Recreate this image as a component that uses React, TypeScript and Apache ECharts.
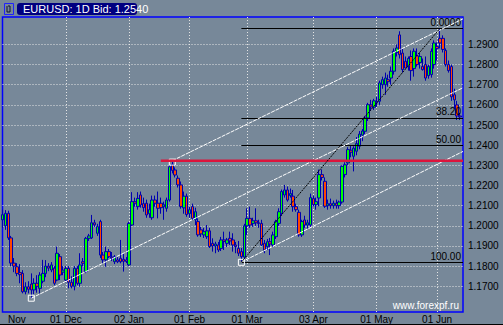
import React, { useEffect, useRef } from 'react';
import * as echarts from 'echarts';

// Daily bars [open, high, low, close]
const novBars = [
  [1.2030, 1.2080, 1.1990, 1.2055], [1.2000, 1.2078, 1.1980, 1.2062], [1.2062, 1.2075, 1.1930, 1.1940],
  [1.1940, 1.1950, 1.1800, 1.1815], [1.1815, 1.1840, 1.1770, 1.1800], [1.1797, 1.1815, 1.1750, 1.1764],
  [1.1768, 1.1810, 1.1715, 1.1758], [1.1764, 1.1780, 1.1665, 1.1673], [1.1673, 1.1720, 1.1660, 1.1698],
  [1.1698, 1.1725, 1.1665, 1.1685], [1.1711, 1.1764, 1.1640, 1.1682], [1.1682, 1.1740, 1.1660, 1.1715],
  [1.1715, 1.1755, 1.1668, 1.1700], [1.1690, 1.1770, 1.1665, 1.1756], [1.1725, 1.1831, 1.1715, 1.1764],
  [1.1764, 1.1830, 1.1745, 1.1800], [1.1800, 1.1815, 1.1775, 1.1790], [1.1781, 1.1820, 1.1770, 1.1806],
  [1.1790, 1.1800, 1.1705, 1.1715], [1.1731, 1.1897, 1.1725, 1.1864], [1.1847, 1.1860, 1.1731, 1.1756],
  [1.1770, 1.1800, 1.1755, 1.1780],
];
const decBars = [
  [1.1731, 1.1800, 1.1720, 1.1789], [1.1789, 1.1800, 1.1690, 1.1720], [1.1720, 1.1750, 1.1690, 1.1700],
  [1.1700, 1.1800, 1.1680, 1.1789], [1.1789, 1.1800, 1.1705, 1.1715], [1.1715, 1.1864, 1.1698, 1.1806],
  [1.1822, 1.1840, 1.1800, 1.1814], [1.1773, 1.1945, 1.1765, 1.1938], [1.1938, 1.1960, 1.1925, 1.1950],
  [1.1940, 1.2054, 1.1935, 1.2015], [1.2015, 1.2030, 1.1995, 1.2005], [1.1963, 1.2010, 1.1950, 1.1996],
  [1.2021, 1.2030, 1.1840, 1.1855], [1.1855, 1.1870, 1.1815, 1.1831], [1.1831, 1.1897, 1.1797, 1.1872],
  [1.1872, 1.1885, 1.1840, 1.1847], [1.1845, 1.1870, 1.1825, 1.1840], [1.1822, 1.1855, 1.1810, 1.1847],
  [1.1831, 1.1845, 1.1815, 1.1822], [1.1839, 1.1930, 1.1814, 1.1822], [1.1834, 1.1864, 1.1773, 1.1824],
  [1.1831, 1.1845, 1.1815, 1.1823],
];
const janBars = [
  [1.1806, 1.2020, 1.1800, 1.2012], [1.2004, 1.2167, 1.2000, 1.2120], [1.2120, 1.2140, 1.2095, 1.2112],
  [1.2095, 1.2167, 1.2080, 1.2136], [1.2153, 1.2170, 1.2090, 1.2103], [1.2110, 1.2140, 1.2070, 1.2090],
  [1.2112, 1.2130, 1.2040, 1.2054], [1.2060, 1.2110, 1.2040, 1.2080], [1.2040, 1.2150, 1.2030, 1.2128],
  [1.2128, 1.2150, 1.2095, 1.2112], [1.2112, 1.2170, 1.2037, 1.2087], [1.2112, 1.2140, 1.2060, 1.2090],
  [1.2095, 1.2120, 1.2030, 1.2105], [1.2087, 1.2140, 1.2070, 1.2128], [1.2128, 1.2300, 1.2120, 1.2293],
  [1.2305, 1.2323, 1.2260, 1.2275], [1.2277, 1.2290, 1.2240, 1.2252], [1.2236, 1.2250, 1.2190, 1.2203],
  [1.2203, 1.2220, 1.2085, 1.2095], [1.2089, 1.2170, 1.2060, 1.2147], [1.2147, 1.2160, 1.2045, 1.2056],
];
const febBars = [
  [1.2060, 1.2095, 1.2040, 1.2080], [1.2095, 1.2110, 1.2030, 1.2037], [1.2030, 1.2090, 1.2004, 1.2070],
  [1.2021, 1.2037, 1.1946, 1.1955], [1.1980, 1.1995, 1.1945, 1.1960], [1.1955, 1.1990, 1.1940, 1.1971],
  [1.1946, 1.2004, 1.1935, 1.1975], [1.1975, 1.1990, 1.1890, 1.1897], [1.1913, 1.1938, 1.1872, 1.1900],
  [1.1900, 1.1921, 1.1864, 1.1910], [1.1905, 1.1920, 1.1870, 1.1880], [1.1888, 1.1945, 1.1875, 1.1930],
  [1.1930, 1.1971, 1.1880, 1.1922], [1.1913, 1.1940, 1.1895, 1.1930], [1.1938, 1.1971, 1.1905, 1.1925],
  [1.1930, 1.1963, 1.1872, 1.1905], [1.1905, 1.1920, 1.1864, 1.1897], [1.1888, 1.1925, 1.1850, 1.1864],
  [1.1872, 1.1890, 1.1820, 1.1847], [1.1845, 1.2010, 1.1835, 1.2000],
];
const marBars = [
  [1.2000, 1.2087, 1.1955, 1.2037], [1.2037, 1.2095, 1.1990, 1.2004], [1.2012, 1.2040, 1.1995, 1.2025],
  [1.2025, 1.2087, 1.2000, 1.2015], [1.2015, 1.2030, 1.1990, 1.2012], [1.2012, 1.2030, 1.1900, 1.1905],
  [1.1913, 1.1930, 1.1864, 1.1880], [1.1897, 1.1935, 1.1880, 1.1921], [1.1921, 1.1940, 1.1855, 1.1910],
  [1.1905, 1.1971, 1.1895, 1.1955], [1.1946, 1.2030, 1.1935, 1.2021], [1.2012, 1.2087, 1.2000, 1.2070],
  [1.2062, 1.2180, 1.2050, 1.2170], [1.2153, 1.2203, 1.2140, 1.2178], [1.2178, 1.2195, 1.2120, 1.2128],
  [1.2150, 1.2185, 1.2140, 1.2160], [1.2147, 1.2178, 1.2070, 1.2095], [1.2095, 1.2110, 1.2070, 1.2080],
  [1.2067, 1.2080, 1.1946, 1.1955], [1.1955, 1.2030, 1.1945, 1.2021], [1.2029, 1.2050, 1.1990, 1.2004],
  [1.2004, 1.2030, 1.1985, 1.2015], [1.2004, 1.2160, 1.1995, 1.2140],
];
const aprBars = [
  [1.2135, 1.2150, 1.2095, 1.2105], [1.2105, 1.2140, 1.2080, 1.2120], [1.2138, 1.2279, 1.2097, 1.2254],
  [1.2254, 1.2280, 1.2225, 1.2240], [1.2221, 1.2240, 1.2089, 1.2097], [1.2100, 1.2130, 1.2080, 1.2110],
  [1.2110, 1.2135, 1.2085, 1.2100], [1.2100, 1.2125, 1.2085, 1.2112], [1.2112, 1.2130, 1.2085, 1.2100],
  [1.2100, 1.2125, 1.2085, 1.2118], [1.2118, 1.2300, 1.2110, 1.2295], [1.2254, 1.2315, 1.2240, 1.2303],
  [1.2312, 1.2390, 1.2300, 1.2378], [1.2375, 1.2400, 1.2340, 1.2365], [1.2345, 1.2395, 1.2270, 1.2385],
  [1.2370, 1.2440, 1.2350, 1.2408], [1.2395, 1.2470, 1.2380, 1.2455], [1.2450, 1.2480, 1.2420, 1.2470],
  [1.2469, 1.2545, 1.2455, 1.2535], [1.2535, 1.2610, 1.2520, 1.2601], [1.2600, 1.2625, 1.2570, 1.2590],
  [1.2588, 1.2630, 1.2575, 1.2620],
];
const mayBars = [
  [1.2615, 1.2640, 1.2590, 1.2610], [1.2618, 1.2720, 1.2600, 1.2709], [1.2700, 1.2740, 1.2680, 1.2725],
  [1.2700, 1.2760, 1.2650, 1.2733], [1.2725, 1.2750, 1.2690, 1.2715], [1.2733, 1.2790, 1.2700, 1.2767],
  [1.2767, 1.2880, 1.2750, 1.2866], [1.2860, 1.2900, 1.2840, 1.2882], [1.2947, 1.2965, 1.2830, 1.2849],
  [1.2857, 1.2880, 1.2760, 1.2775], [1.2816, 1.2840, 1.2780, 1.2783], [1.2790, 1.2840, 1.2770, 1.2830],
  [1.2840, 1.2870, 1.2720, 1.2770], [1.2780, 1.2880, 1.2740, 1.2866], [1.2843, 1.2880, 1.2790, 1.2800],
  [1.2810, 1.2860, 1.2780, 1.2840], [1.2790, 1.2830, 1.2770, 1.2775], [1.2800, 1.2840, 1.2720, 1.2733],
  [1.2745, 1.2800, 1.2730, 1.2790], [1.2750, 1.2880, 1.2735, 1.2866], [1.2800, 1.2920, 1.2780, 1.2907],
];
const junBars = [
  [1.2890, 1.2910, 1.2820, 1.2880], [1.2930, 1.2979, 1.2880, 1.2907], [1.2930, 1.2945, 1.2860, 1.2875],
  [1.2870, 1.2880, 1.2790, 1.2800], [1.2800, 1.2820, 1.2760, 1.2770], [1.2790, 1.2800, 1.2620, 1.2640],
  [1.2650, 1.2680, 1.2580, 1.2625], [1.2600, 1.2620, 1.2525, 1.2545], [1.2545, 1.2560, 1.2525, 1.2540],
];

// month separators (bar index of the first bar of each month) and their labels
const monthStart = [0, 22, 44, 65, 85, 108, 130, 151];
const labelIndex = [5, 22, 44, 65, 85, 108, 130, 151];
const monthLabels = ['Nov', '01 Dec', '02 Jan', '01 Feb', '01 Mar', '03 Apr', '01 May', '01 Jun'];
const priceLevels = [1.17, 1.18, 1.19, 1.2, 1.21, 1.22, 1.23, 1.24, 1.25, 1.26, 1.27, 1.28, 1.29];
const lastPrice = 1.254;

const fibNames = ['0.0000', '38.20', '50.00', '100.00'];
const fibPrices = [1.2979, 1.2536, 1.2400, 1.1820];
const fibStart = 83;
const fibTrend = [[83, 1.1820], [152, 1.2979]];
const channelLow = [[10, 1.1641], [160, 1.2685]];
const channelHigh = [[59, 1.2323], [160, 1.3027]];
const marchTrend = [[83, 1.1820], [160, 1.2369]];
const resistance = [[55, 1.2323], [160, 1.2323]];
const pivots = [[10, 1.1641], [59, 1.2316], [83, 1.1819]];

const NARROW = '"Liberation Sans Narrow", "Liberation Sans", Arial, sans-serif';
const SANS = '"Liberation Sans", Arial, sans-serif';

export default function App() {
  const ref = useRef<HTMLDivElement>(null);
  useEffect(() => {
    if (!ref.current) return;
    const chart = echarts.init(ref.current, null, { renderer: 'svg' });
    const bars = [...novBars, ...decBars, ...janBars, ...febBars, ...marBars, ...aprBars, ...mayBars, ...junBars];
    const ohlc = bars.map(([o, h, l, c]) => [o, c, l, h]);
    const nCat = bars.length + 1;
    const categories = Array.from({ length: nCat }, (_, i) => String(i));
    const labelOf = (v: string) => {
      const k = labelIndex.indexOf(Number(v));
      return k >= 0 ? monthLabels[k] : '';
    };
    const gridLine = { color: '#e4e4e4', type: [1, 2] as any, width: 1 };
    const line = (data: number[][], color: string, type: any, width: number, z: number) => ({
      type: 'line', data, symbol: 'none', silent: true, z,
      lineStyle: { color, type, width },
    });

    chart.setOption({
      animation: false,
      backgroundColor: '#778899',
      grid: {
        left: 2.5, right: 40, top: 17, bottom: 13, show: true,
        borderColor: '#0000ff', borderWidth: 1.5, backgroundColor: 'transparent',
      },
      xAxis: {
        type: 'category', data: categories, boundaryGap: false,
        axisLine: { show: false }, axisTick: { show: false },
        axisLabel: {
          interval: (i: number) => labelIndex.indexOf(i) >= 0, formatter: (v: string) => labelOf(v),
          color: '#000', fontSize: 10, fontFamily: NARROW, margin: 2,
        },
        splitLine: { show: true, interval: (i: number) => monthStart.indexOf(i) > 0, lineStyle: gridLine },
      },
      yAxis: {
        type: 'value', position: 'right', min: 1.15725, max: 1.30359, scale: true,
        axisLine: { show: false },
        axisTick: { show: false, customValues: priceLevels },
        axisLabel: {
          customValues: priceLevels, formatter: (v: number) => v.toFixed(4),
          color: '#000', fontSize: 10, fontFamily: NARROW, margin: 5,
        },
        splitLine: { show: true, lineStyle: gridLine },
      },
      graphic: [
        { type: 'rect', shape: { x: 17, y: 3, width: 120, height: 12, r: 3 }, style: { fill: '#000080' } },
        {
          type: 'text', x: 23, y: 9,
          style: { text: 'EURUSD: 1D Bid: ' + lastPrice.toFixed(4), fill: '#fff', fontSize: 11, fontFamily: NARROW, verticalAlign: 'middle' },
        },
        { type: 'rect', shape: { x: 4.5, y: 3.5, width: 9, height: 11 }, style: { fill: 'none', stroke: '#2020ff', lineWidth: 1 } },
        { type: 'polyline', shape: { points: [[7, 6], [7, 12], [10, 12], [10, 6], [8, 6]] }, style: { fill: 'none', stroke: '#101030', lineWidth: 1 } },
        {
          type: 'text', x: 459, y: 305,
          style: { text: 'www.forexpf.ru', fill: '#fff', fontSize: 10, fontFamily: SANS, align: 'right', verticalAlign: 'middle' },
        },
        { type: 'line', shape: { x1: 0, y1: 324.5, x2: 503, y2: 324.5 }, style: { stroke: '#000', lineWidth: 1 } },
      ],
      series: [
        {
          type: 'candlestick', data: ohlc, barWidth: 3, z: 2,
          itemStyle: { color: '#00ff00', color0: '#ff4500', borderColor: '#0000b0', borderColor0: '#0000b0', borderWidth: 1 },
          markPoint: {
            symbol: 'rect', symbolSize: 6, silent: true, label: { show: false },
            itemStyle: { color: 'rgba(0,0,0,0)', borderColor: '#ffffff', borderWidth: 1 },
            data: pivots.map((p) => ({ coord: p })),
          },
        },
        line(channelLow, '#ffffff', [4, 1], 1, 5),
        line(channelHigh, '#ffffff', [4, 1], 1, 5),
        line(marchTrend, '#ffffff', [4, 1], 1, 5),
        line(resistance, '#dc143c', 'solid', 2.5, 6),
        {
          ...line(fibTrend, '#000000', [2, 1], 1, 6),
          markLine: {
            symbol: 'none', silent: true,
            lineStyle: { color: '#000', width: 1, type: 'solid' },
            label: { show: true, position: 'insideEndTop', formatter: '{b}', color: '#000', fontSize: 10, fontFamily: SANS, distance: [2, 1] },
            data: fibPrices.map((p, k) => [
              { name: fibNames[k], coord: [fibStart, p] },
              { name: fibNames[k], coord: [nCat - 1, p] },
            ]),
          },
        },
        {
          type: 'line', data: [], silent: true,
          markLine: {
            symbol: 'none', silent: true,
            lineStyle: { opacity: 0 },
            label: {
              show: true, position: 'end', formatter: lastPrice.toFixed(4), color: '#fff',
              backgroundColor: '#a0a0a0', padding: [1, 9, 0, 5], distance: 1,
              fontSize: 10, fontFamily: NARROW,
            },
            data: [{ yAxis: lastPrice }],
          },
        },
      ],
    });
    return () => chart.dispose();
  }, []);
  return <div ref={ref} style={{ position: 'absolute', left: 0, top: 0, width: 503, height: 325 }} />;
}
